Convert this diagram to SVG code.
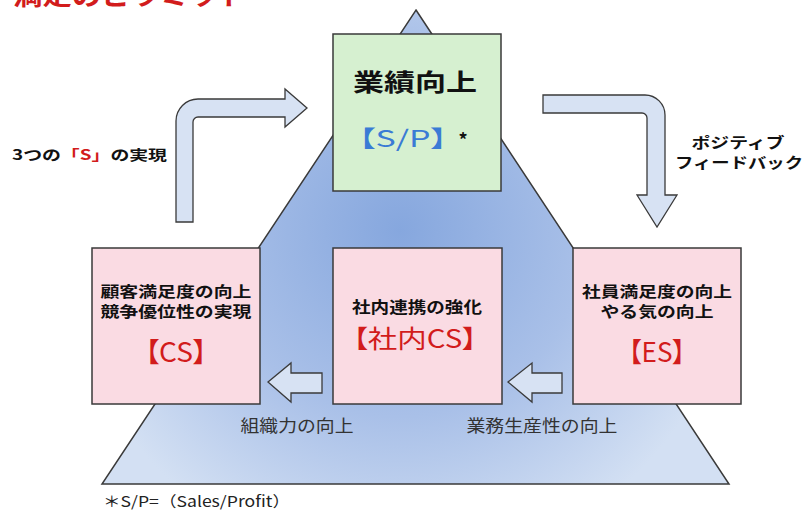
<svg xmlns="http://www.w3.org/2000/svg" width="807" height="512" viewBox="0 0 807 512">
  <defs>
    <radialGradient id="triGrad" gradientUnits="userSpaceOnUse" cx="400" cy="230" r="340">
      <stop offset="0" stop-color="#86a7de"/>
      <stop offset="0.55" stop-color="#a9c0e8"/>
      <stop offset="1" stop-color="#d3e0f3"/>
    </radialGradient>
    <style>
      .jp { font-family: "Noto Sans CJK JP", "Noto Sans", "Liberation Sans", sans-serif; }
      .b { font-weight: 700; }
      .blk { fill: #111111; }
      .red { fill: #d21c1c; }
      .blue { fill: #3a7bd5; }
      .gray { fill: #333333; }
      .palt { font-feature-settings: "palt"; }
      .box { stroke: #3a3a3a; stroke-width: 1.5; }
      .pink { fill: #fadbe3; }
      .green { fill: #d6f0d0; }
      .arrow { fill: #d7e2f3; stroke: #3a3a3a; stroke-width: 1.3; stroke-linejoin: miter; }
    </style>
  </defs>

  <rect width="807" height="512" fill="#ffffff"/>

  <!-- Title (cut off at top in the reference) -->
  <text class="jp b red" x="13" y="5" font-size="26" textLength="235" lengthAdjust="spacingAndGlyphs">満足のピラミッド</text>

  <!-- Pyramid background -->
  <g id="pyramid">
    <polygon points="416,10 729,484 102,484" fill="url(#triGrad)" stroke="#3a3a3a" stroke-width="1.5"/>
  </g>

  <!-- Connectors -->
  <g id="connectors">
    <path class="arrow" d="M176,222 L176,121 A22,22 0 0 1 198,99 L285,99 L285,89 L307,108 L285,127 L285,117 L198,117 A5,5 0 0 0 193,122 L193,222 Z"/>
    <path class="arrow" d="M543,95 L645,95 A20,20 0 0 1 665,115 L665,195 L677,195 L657,227 L637,195 L647,195 L647,118 A5,5 0 0 0 642,113 L543,113 Z"/>
    <path class="arrow" d="M268,382 L291,363 L291,373 L322,373 L322,393 L291,393 L291,402 Z"/>
    <path class="arrow" d="M508,382 L532,363 L532,373 L562,373 L562,393 L532,393 L532,402 Z"/>
  </g>

  <!-- Top node -->
  <g id="node-sp">
    <rect class="box green" x="333" y="34" width="168" height="157"/>
    <text class="jp b blk" x="415" y="91" font-size="24" text-anchor="middle" textLength="124" lengthAdjust="spacingAndGlyphs">業績向上</text>
    <text class="jp blue palt" x="403" y="147" font-size="23" text-anchor="middle" textLength="89" lengthAdjust="spacingAndGlyphs">【S/P】</text>
    <text class="jp b blk" x="463" y="147" font-size="18" text-anchor="middle">*</text>
  </g>

  <!-- CS node -->
  <g id="node-cs">
    <rect class="box pink" x="92" y="248" width="168" height="156"/>
    <text class="jp b blk" x="176" y="297" font-size="15" text-anchor="middle" textLength="151" lengthAdjust="spacingAndGlyphs">顧客満足度の向上</text>
    <text class="jp b blk" x="176" y="317" font-size="15" text-anchor="middle" textLength="151" lengthAdjust="spacingAndGlyphs">競争優位性の実現</text>
    <text class="jp red palt" x="176" y="362" font-size="27" text-anchor="middle" textLength="62" lengthAdjust="spacingAndGlyphs">【CS】</text>
  </g>

  <!-- Internal CS node -->
  <g id="node-internal-cs">
    <rect class="box pink" x="333" y="248" width="169" height="156"/>
    <text class="jp b blk" x="417" y="313" font-size="16" text-anchor="middle" textLength="130" lengthAdjust="spacingAndGlyphs">社内連携の強化</text>
    <text class="jp red palt" x="415" y="348" font-size="25" text-anchor="middle" textLength="124" lengthAdjust="spacingAndGlyphs">【社内CS】</text>
  </g>

  <!-- ES node -->
  <g id="node-es">
    <rect class="box pink" x="573" y="248" width="168" height="156"/>
    <text class="jp b blk" x="657" y="297" font-size="15" text-anchor="middle" textLength="150" lengthAdjust="spacingAndGlyphs">社員満足度の向上</text>
    <text class="jp b blk" x="657" y="317" font-size="15" text-anchor="middle" textLength="113" lengthAdjust="spacingAndGlyphs">やる気の向上</text>
    <text class="jp red palt" x="657" y="362" font-size="27" text-anchor="middle" textLength="57" lengthAdjust="spacingAndGlyphs">【ES】</text>
  </g>

  <!-- Side labels -->
  <g id="label-3s">
    <text class="jp b blk" x="12" y="160" font-size="14" textLength="155" lengthAdjust="spacingAndGlyphs">3つの<tspan class="red">「S」</tspan>の実現</text>
  </g>
  <g id="label-feedback">
    <text class="jp b blk" x="738" y="148" font-size="15" text-anchor="middle" textLength="93" lengthAdjust="spacingAndGlyphs">ポジティブ</text>
    <text class="jp b blk" x="739" y="168" font-size="15" text-anchor="middle" textLength="128" lengthAdjust="spacingAndGlyphs">フィードバック</text>
  </g>

  <!-- Bottom labels -->
  <g id="label-org">
    <text class="jp gray" x="297" y="432" font-size="17" text-anchor="middle" textLength="113" lengthAdjust="spacingAndGlyphs">組織力の向上</text>
  </g>
  <g id="label-productivity">
    <text class="jp gray" x="542" y="432" font-size="17" text-anchor="middle" textLength="151" lengthAdjust="spacingAndGlyphs">業務生産性の向上</text>
  </g>

  <!-- Footnote -->
  <text class="jp" x="103" y="507" font-size="15" fill="#222222" textLength="187" lengthAdjust="spacingAndGlyphs">＊S/P=（Sales/Profit）</text>
</svg>
